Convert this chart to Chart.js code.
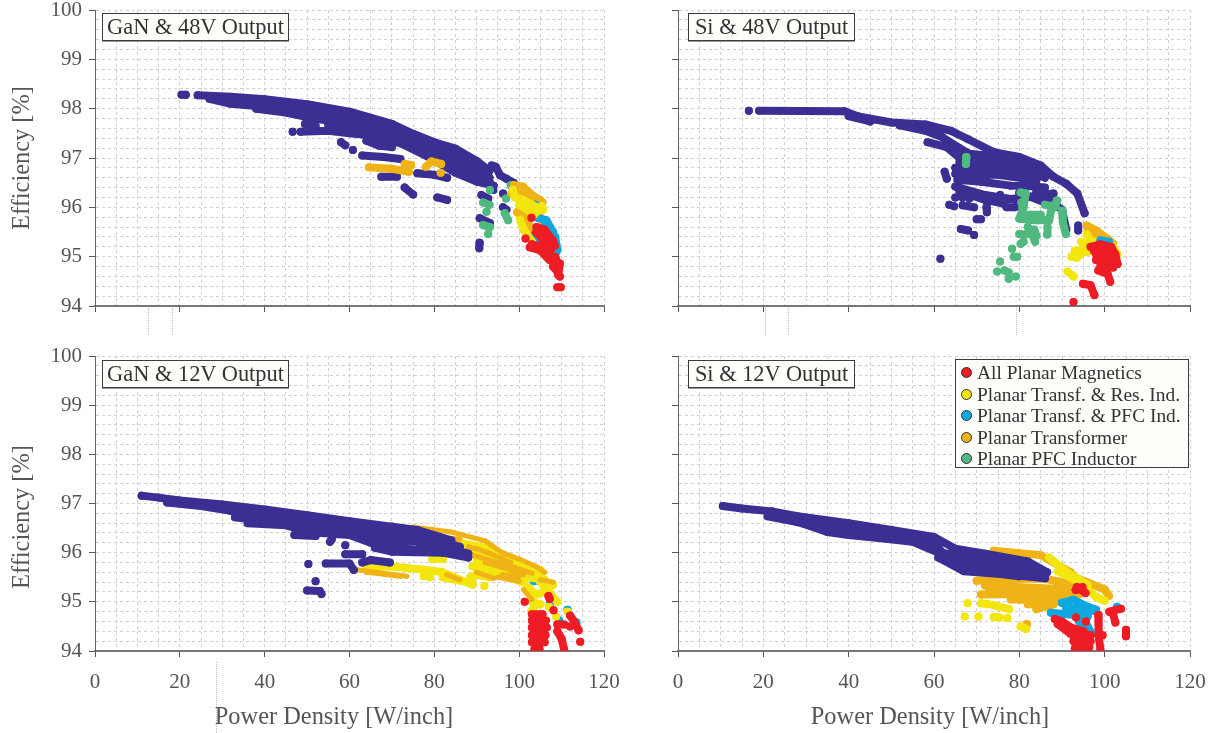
<!DOCTYPE html>
<html>
<head>
<meta charset="utf-8">
<title>Efficiency vs Power Density</title>
<script src="https://cdn.jsdelivr.net/npm/chart.js@4"></script>
<style>
	html, body { margin: 0; padding: 0; background: #fff; }
	#page { position: relative; width: 1226px; height: 733px; overflow: hidden; font-family: "Liberation Serif", serif; color: #555; }
	canvas { position: absolute; }
	.tag { position: absolute; height: 26px; line-height: 26px; border: 1px solid #3c3c3c; background: #fffdf9; font-size: 22.4px; color: #333; text-align: center; white-space: nowrap; box-shadow: 0 1px 0 #999; }
	.axisTitle { position: absolute; font-size: 24.4px; white-space: nowrap; transform: translate(-50%, -50%); }
	.stray { position: absolute; border-left: 1px dotted #bbb; }
	#legend { position: absolute; left: 955px; top: 359px; width: 232px; height: 107px; border: 1px solid #3c3c3c; background: #fffdf9; font-size: 19.4px; line-height: 22px; color: #333; }
	#legend div { position: absolute; left: 21px; white-space: nowrap; }
	#legend i { position: absolute; left: -16px; top: 5px; width: 9px; height: 9px; border-radius: 50%; border: 1px solid #333; }
</style>
</head>
<body>
<div id="page"></div>
<script>
/* ---- axis ticks ---- */
const xTickLabels = [0, 20, 40, 60, 80, 100, 120];
const yTickLabels = [94, 95, 96, 97, 98, 99, 100];

/* ---- legend ---- */
const legendNames = ["All Planar Magnetics", "Planar Transf. & Res. Ind.", "Planar Transf. & PFC Ind.", "Planar Transformer", "Planar PFC Inductor"];
const legendColors = ["#ee1c25", "#f2e60e", "#0ca8df", "#efb317", "#50b97f"];
const sweepColor = "#3b2f93";

/* ---- [power density, efficiency], null ends a sweep ---- */
const ganHighBlue = [
	[20.4, 98.28], [21.4, 98.28], null,
	[24.2, 98.27], [32, 98.24], [40, 98.19], [50, 98.09], [60, 97.94], [70, 97.69], [75, 97.49], [80, 97.32], [85, 97.19], [90, 96.94], [93, 96.74], null,
	[27, 98.2], [32, 98.1], [40, 98.04], [50, 97.95], [60, 97.8], [70, 97.55], [75, 97.35], [80, 97.18], [85, 97.05], [90, 96.8], [93, 96.6], null,
	[29, 98.17], [36, 98.12], [42, 98.08], null,
	[38, 98.0], [45, 97.92], [50, 97.83], [60, 97.68], [70, 97.43], [75, 97.25], [80, 97.06], [85, 96.93], [90, 96.68], [93, 96.52], null,
	[55, 97.68], [60, 97.56], [65, 97.46], [70, 97.36], [75, 97.2], [80, 96.98], [85, 96.8], [90, 96.62], null,
	[72, 97.3], [78, 97.05], [85, 96.7], [90, 96.52], [94, 96.44], null,
	[46.6, 97.53], null,
	[48.5, 97.53], [55, 97.55], [60, 97.5], [66, 97.45], null,
	[49.5, 97.69], [52, 97.65], null,
	[58, 97.32], [59, 97.26], null,
	[60.8, 97.16], null,
	[63, 97.05], [68, 97.02], [72, 96.98], null,
	[64, 97.35], [67, 97.25], [70, 97.22], null,
	[67.5, 96.62], [71.2, 96.62], null,
	[76, 96.69], [80, 96.66], [83, 96.6], null,
	[73, 96.4], [75, 96.26], null,
	[80.7, 96.2], [83, 96.15], null,
	[93.5, 96.85], [94.5, 96.82], [95.5, 96.65], [97, 96.58], [98.7, 96.5], [99.4, 96.42], null,
	[91.1, 96.25], [92.7, 96.18], null,
	[93.9, 96.35], null,
	[90.7, 95.78], [93.1, 95.68], null,
	[90.7, 95.28], [90.6, 95.17], null,
	[96.2, 96.28], null,
	[96.2, 96.0], [97, 95.95]
];
const ganHighGreen = [
	[98, 96.45], null,
	[93.1, 96.35], null,
	[96.9, 96.18], null,
	[91.5, 96.1], [93, 96.05], null,
	[92.3, 95.91], null,
	[91.5, 95.64], [93.1, 95.6], null,
	[92.7, 95.46], null,
	[96.6, 95.88], [97.4, 95.74]
];
const ganHighOrange = [
	[64.6, 96.81], [70, 96.78], [74, 96.72], null,
	[73, 96.88], [74.5, 96.86], null,
	[78, 96.82], [79.3, 96.93], [81.6, 96.88], null,
	[81.5, 96.7], null,
	[98.8, 96.45], [100.9, 96.42], [103, 96.25], [104.9, 96.15], [105.5, 96.1], null,
	[100, 96.3], [102, 96.2], [104, 96.05], null,
	[98.2, 96.28], [100.5, 96.15], [102.5, 95.95], [104, 95.85], [106, 95.7], null,
	[101.5, 96.05], [103, 95.9], [105, 95.8], null,
	[99.5, 95.9], [101, 95.8], null,
	[100.5, 95.9], [102, 95.7], [103, 95.55], [104.5, 95.45], null,
	[101, 95.55], [103.5, 95.38], null
];
const ganHighCyan = [
	[103.7, 96.05], null,
	[104.5, 95.78], [106.4, 95.74], [108, 95.5], null,
	[106, 95.62], [108.5, 95.4], [109, 95.15], null,
	[108.8, 95.1], null,
	[103, 95.42], [105, 95.25], [107, 95.15], null,
	[102.9, 95.34], [105.5, 95.18]
];
const ganHighYellow = [
	[98.5, 96.35], [99, 96.2], [101, 96.15], [103, 96.05], [105.6, 95.95], null,
	[100, 96.05], [102, 95.95], [103.5, 95.85], [105.4, 96.02], null,
	[100.2, 95.75], [100.8, 95.6], [101.7, 95.47], [103, 95.3], null
];
const ganHighRed = [
	[102.9, 95.79], null,
	[101.5, 95.37], null,
	[104.1, 95.6], [106, 95.55], [108, 95.32], [108.4, 95.22], null,
	[105, 95.5], [107, 95.28], null,
	[104, 95.5], [105.5, 95.35], [107.5, 95.15], null,
	[102.5, 95.19], [104.9, 95.13], [107.2, 94.93], [109.6, 94.86], [109.2, 94.63], [109.6, 94.6], null,
	[103, 95.25], [105, 95.2], [107, 95.05], [108, 94.95], null,
	[106.5, 95.0], [108.5, 95.0], [109.4, 94.8], null,
	[108, 94.8], [109, 94.7], null,
	[109, 94.38], [109.8, 94.38]
];

const siHighBlue = [
	[16.6, 97.96], null,
	[19, 97.96], [39, 97.95], [42, 97.85], [50, 97.72], [58, 97.68], [64, 97.55], [68, 97.38], [74, 97.12], [80, 97.02], [85, 96.85], [88, 96.62], [91, 96.48], [93.6, 96.28], [95.3, 95.88], null,
	[40, 97.85], [45, 97.74], null,
	[52, 97.66], [58, 97.55], [62, 97.42], [66, 97.2], [70, 97.0], null,
	[58.5, 97.32], [63, 97.22], [66, 97.0], [70, 96.85], null,
	[67, 97.1], [72, 97.05], [80, 96.95], [85, 96.75], null,
	[66, 96.92], [72, 96.9], [80, 96.85], [86, 96.6], null,
	[65, 96.8], [75, 96.78], [85, 96.65], null,
	[65, 96.68], [75, 96.66], [84, 96.55], null,
	[65.5, 96.56], [71, 96.52], [78, 96.44], [84, 96.42], null,
	[62.5, 96.72], [63, 96.58], null,
	[65, 96.42], [72, 96.25], [78, 96.17], [83, 96.22], [88, 96.28], null,
	[66, 96.32], [72, 96.15], [76, 96.08], null,
	[82, 96.45], [86, 96.4], null,
	[80, 96.3], [86, 96.1], [88, 96.0], null,
	[75.5, 96.25], [77, 96.0], [79, 96.0], [81, 96.15], null,
	[84, 96.32], [87, 96.14], [90, 95.95], [91, 95.55], null,
	[65, 96.2], null, [66.7, 96.2], null, [68.3, 96.18], null,
	[63.6, 96.05], null, [64.7, 96.02], null,
	[66.7, 96.04], [69.4, 96.0], null,
	[72.3, 96.0], [72.4, 95.9], null,
	[70, 95.76], [71, 95.76], null,
	[66.3, 95.56], [68, 95.53], null,
	[69.4, 95.44], null,
	[61.5, 94.96], null,
	[93.8, 95.63], [93.8, 95.53]
];
const siHighGreen = [
	[67.6, 97.02], [67.5, 96.88], null,
	[80.3, 96.3], [81.5, 96.28], [81, 96.0], [80, 95.77], [84, 95.74], [87, 95.74], [87.4, 95.93], [88.9, 96.14], null,
	[80.5, 96.1], [81, 95.85], [85, 95.85], null,
	[86, 96.05], [88.5, 96.02], null,
	[90, 95.93], [90.2, 95.7], [90.9, 95.46], null,
	[82, 95.6], [83, 95.45], [83.7, 95.3], null,
	[83.5, 95.55], [84, 95.42], null,
	[86.5, 95.45], [86.6, 95.6], null,
	[80, 95.46], [81.5, 95.45], null,
	[80.3, 95.26], [81, 95.3], null,
	[78.3, 95.16], null,
	[78.7, 95.0], [79.5, 95.0], null,
	[75.5, 94.9], null,
	[74.8, 94.7], null,
	[76.5, 94.72], [77.5, 94.68], null,
	[77.5, 94.55], null,
	[79.2, 94.6]
];
const siHighOrange = [[95.8, 95.63], [98, 95.53], [100.7, 95.36], [102, 95.26], null, [96, 95.5], [98, 95.42]];
const siHighYellow = [
	[95.8, 95.45], [97, 95.3], [99, 95.3], null,
	[94.5, 95.3], [96, 95.1], [98, 95.15], null,
	[93, 95.12], [94.8, 95.12], [96, 95.25], null,
	[92.2, 95.0], [93.5, 94.98], [95, 95.1], null,
	[91.3, 94.7], [92.7, 94.6], null,
	[102, 95.2], [103, 95.05]
];
const siHighCyan = [[99, 95.33], [101, 95.3]];
const siHighRed = [
	[96.7, 95.2], [99, 95.25], [101.5, 95.2], [102.5, 95.05], [103, 94.85], null,
	[97.5, 95.12], [101, 95.1], null,
	[98, 95.05], [100, 95.0], [102.5, 94.9], [103, 94.85], null,
	[98, 94.93], [102, 94.85], null,
	[99, 94.8], [102, 94.78], null,
	[98.5, 94.72], [100.7, 94.65], [101.3, 94.49], null,
	[94.9, 94.45], [96.7, 94.42], [97.6, 94.22], null,
	[92.7, 94.08]
];

const ganLowOrange = [
	[75, 96.52], [84, 96.42], [92, 96.24], [96, 96.0], [100, 95.87], [104, 95.72], [106, 95.6], null,
	[62, 95.65], [68, 95.58], [73.5, 95.52], null,
	[64, 95.6], [72, 95.52], null,
	[83, 95.55], [86, 95.45], null,
	[78, 96.33], [86, 96.28], null,
	[88, 96.12], [92, 96.02], [96, 95.88], null,
	[90, 96.08], [94, 95.95], [98, 95.8], null,
	[89, 95.95], [93, 95.85], null,
	[94, 95.82], [99, 95.7], [103, 95.58], null,
	[92, 95.8], [98, 95.65], [101, 95.55], null,
	[96, 95.55], [100, 95.52], null,
	[90, 95.6], [94, 95.48], null,
	[95, 95.5], [100, 95.42], null,
	[105, 95.45], [108, 95.4], null,
	[101, 95.25], [103, 95.05]
];
const ganLowYellow = [
	[86, 96.2], [92, 96.1], [96, 95.92], [100, 95.77], [105, 95.65], null,
	[88, 96.05], [92, 95.92], [96, 95.78], [100, 95.62], [105, 95.52], null,
	[90, 95.85], [94, 95.75], [98, 95.6], [102, 95.5], [106, 95.45], null,
	[89, 95.72], [94, 95.6], [98, 95.48], [101, 95.4], null,
	[88.5, 95.5], [90, 95.55], [93, 95.5], null,
	[102, 95.3], [104, 95.15], [106, 95.2], [108, 95.35], null,
	[105, 95.4], [109, 95.0], null,
	[103, 95.0], [105, 94.95], null,
	[64, 95.72], [70, 95.72], [78, 95.65], [82, 95.6], [86, 95.45], [89, 95.35], null,
	[82, 95.5], [89, 95.38], null,
	[79.5, 95.87], [82, 95.87], null,
	[77.5, 95.52], null, [79, 95.5], null,
	[91.8, 95.32], null,
	[102.8, 94.8], [104, 94.95], null,
	[107, 94.9], null, [108.7, 94.7], null, [111.4, 94.8], null
];
const ganLowCyan = [[103.5, 95.42], null, [107.2, 94.95], null, [111.4, 94.84], null, [109.4, 94.62], null, [113.5, 94.58]];
const ganLowBlue = [
	[11, 97.16], [15, 97.12], [20, 97.06], [30, 96.98], [40, 96.88], [50, 96.76], [60, 96.64], [70, 96.53], [76, 96.46], [84, 96.25], null,
	[17, 97.02], [25, 96.95], [32, 96.85], [40, 96.76], [50, 96.64], [60, 96.52], [70, 96.41], [80, 96.28], [86, 96.12], null,
	[33, 96.72], [40, 96.64], [50, 96.52], [60, 96.4], [70, 96.29], [80, 96.17], [88, 95.98], null,
	[36, 96.6], [45, 96.56], [50, 96.42], [60, 96.36], [65, 96.2], [75, 96.06], [85, 96.03], null,
	[47, 96.36], [52, 96.34], null,
	[66, 96.1], [70, 96.02], [82, 96.0], [88, 95.9], null,
	[59, 96.15], null,
	[55.8, 96.27], [55.4, 96.22], null,
	[59, 95.97], [63, 95.97], null,
	[63, 95.8], [65, 95.85], [69.5, 95.8], null,
	[54.4, 95.78], [60, 95.78], [61, 95.65], null,
	[50.3, 95.77], null,
	[52, 95.42], null,
	[50, 95.23], [53, 95.22], [53.4, 95.16]
];
const ganLowRed = [
	[101.3, 95.0], null,
	[106.9, 95.12], [107.2, 95.06], null,
	[108.1, 94.83], null,
	[103, 94.75], [105.5, 94.75], null,
	[103, 94.62], [106.3, 94.62], null,
	[103, 94.48], [106.5, 94.48], null,
	[103, 94.32], [106.2, 94.32], null,
	[103, 94.18], [106, 94.18], null,
	[103.6, 94.04], [104.8, 94.04], null,
	[109, 94.54], [110.6, 94.54], null,
	[109, 94.4], [110, 94.25], [110.6, 94.03], null,
	[112, 94.72], [113, 94.6], [114, 94.42], null,
	[112, 94.5], null,
	[114.4, 94.19]
];

const siLowOrange = [
	[74, 96.04], [85, 95.95], [92, 95.6], [93, 95.5], [100, 95.25], [101, 95.12], null,
	[70, 95.43], [78, 95.47], [86, 95.47], [90, 95.4], [93, 95.3], null,
	[72, 95.33], [92, 95.25], null,
	[73, 95.24], [93, 95.2], null,
	[71, 95.15], [80, 95.16], [90, 95.12], [94, 95.15], null,
	[78, 95.05], [90, 95.0], null,
	[82, 94.95], [88, 94.95], [84, 94.85], null,
	[81.8, 94.55]
];
const siLowYellow = [
	[87, 95.9], [92, 95.55], [96, 95.35], null,
	[89, 95.62], [93, 95.45], null,
	[94, 95.45], [96, 95.25], [98, 95.1], [100, 95.02], null,
	[67.9, 94.97], null,
	[71, 94.97], [72.8, 94.95], null,
	[74, 94.93], [77.6, 94.85], null,
	[67.2, 94.7], null, [70.4, 94.7], null,
	[74, 94.69], [75.4, 94.68], null,
	[77.2, 94.67], null,
	[80.3, 94.5], [81.6, 94.45]
];
const siLowCyan = [
	[90, 94.98], [92.7, 95.04], [96, 94.9], [98, 94.84], null,
	[91, 94.88], [97, 94.82], null,
	[87.4, 94.78], [91, 94.75], [94, 94.72], [96, 94.7], null,
	[94, 94.6], [96, 94.5], [97, 94.35], null,
	[102.9, 94.9]
];
const siLowBlue = [
	[10.5, 96.95], [15, 96.9], [22, 96.84], [28, 96.74], [40, 96.6], [50, 96.46], [60, 96.32], [65, 96.08], [72, 95.98], [82, 95.82], [86.5, 95.6], null,
	[21, 96.74], [28, 96.62], [35, 96.55], [40, 96.45], [50, 96.32], [60, 96.2], [62, 96.0], [70, 95.85], [80, 95.72], [86, 95.55], null,
	[29, 96.6], [35, 96.42], [40, 96.36], [47, 96.3], [55, 96.22], [61, 96.0], [65, 95.8], [72, 95.72], [80, 95.6], [86, 95.5], null,
	[50, 96.4], [60, 96.25], null,
	[61, 95.9], [67, 95.62], [78, 95.55], [86, 95.48], null,
	[70, 95.62], [80, 95.52]
];
const siLowRed = [
	[93.5, 95.3], [95.5, 95.18], null,
	[93.2, 95.24], [94.8, 95.3], null,
	[88.3, 94.65], [90, 94.6], [92, 94.48], [95, 94.4], null,
	[89, 94.55], [92, 94.35], null,
	[93.3, 94.68], null,
	[95.6, 94.6], null,
	[92.7, 94.32], [96.7, 94.32], null,
	[92.7, 94.2], [96.7, 94.2], null,
	[93, 94.05], [96.4, 94.08], null,
	[98.5, 94.73], [98.6, 94.3], [99, 94.03], null,
	[99.5, 94.32], null,
	[101.1, 94.8], [103.8, 94.86], null,
	[102.5, 94.58], [102, 94.75], null,
	[105, 94.43], [105, 94.3]
];

/* ---- each panel lists its series bottom to top ---- */
const panels = [
	{ id: "ganHigh", tag: "GaN & 48V Output", left: 0, top: 0, labelsY: true, labelsX: false, series: [[ganHighBlue, sweepColor], [ganHighGreen, legendColors[4]], [ganHighOrange, legendColors[3]], [ganHighCyan, legendColors[2]], [ganHighYellow, legendColors[1]], [ganHighRed, legendColors[0]]] },
	{ id: "siHigh", tag: "Si & 48V Output", left: 630, top: 0, labelsY: false, labelsX: false, series: [[siHighBlue, sweepColor], [siHighGreen, legendColors[4]], [siHighOrange, legendColors[3]], [siHighYellow, legendColors[1]], [siHighCyan, legendColors[2]], [siHighRed, legendColors[0]]] },
	{ id: "ganLow", tag: "GaN & 12V Output", left: 0, top: 345, labelsY: true, labelsX: true, series: [[ganLowCyan, legendColors[2]], [ganLowYellow, legendColors[1]], [ganLowOrange, legendColors[3], 5], [ganLowBlue, sweepColor], [ganLowRed, legendColors[0]]] },
	{ id: "siLow", tag: "Si & 12V Output", left: 630, top: 345, labelsY: false, labelsX: true, series: [[siLowOrange, legendColors[3]], [siLowYellow, legendColors[1]], [siLowCyan, legendColors[2]], [siLowBlue, sweepColor], [siLowRed, legendColors[0]]] }
];

const page = document.getElementById("page");

function addText(className, text, css) {
	const el = document.createElement("div");
	el.className = className;
	el.textContent = text;
	Object.assign(el.style, css);
	page.appendChild(el);
	return el;
}

function isWhole(value, step) {
	return Math.abs(value / step - Math.round(value / step)) < 1e-6;
}

function drawPanel(panel) {
	const isLeft = panel.left === 0;
	const isTop = panel.top === 0;
	const canvas = document.createElement("canvas");
	canvas.id = panel.id;
	canvas.width = isLeft ? 630 : 596;
	canvas.height = isTop ? 345 : 388;
	canvas.style.left = panel.left + "px";
	canvas.style.top = panel.top + "px";
	page.appendChild(canvas);

	new Chart(canvas, {
		type: "scatter",
		data: {
			// Chart.js paints the first dataset last, so flip the bottom-to-top list
			datasets: panel.series.slice().reverse().map(([points, color, width = 8]) => ({
				data: points.map(p => p ? { x: p[0], y: p[1] } : { x: null, y: null }),
				showLine: true,
				spanGaps: false,
				borderColor: color,
				backgroundColor: color,
				borderWidth: width,
				borderCapStyle: "round",
				borderJoinStyle: "round",
				pointRadius: width / 2,
				pointBorderWidth: 0,
				pointHoverRadius: width / 2
			}))
		},
		options: {
			responsive: false,
			animation: false,
			events: [],
			layout: { padding: { top: isTop ? 10 : 11, right: isLeft ? 26 : 36, left: 0, bottom: 0 } },
			plugins: { legend: { display: false }, tooltip: { enabled: false }, title: { display: false } },
			scales: {
				x: {
					type: "linear",
					min: xTickLabels[0],
					max: xTickLabels[xTickLabels.length - 1],
					afterFit: scale => {
						scale.height = isTop ? 39 : 82;
						scale.paddingLeft = 0;
						scale.paddingRight = 0;
					},
					grid: {
						color: "#d0d0d0",
						lineWidth: 1,
						tickLength: 6,
						tickColor: c => isWhole(c.tick.value, 20) ? "#555" : "rgba(0,0,0,0)"
					},
					border: { display: true, color: "#777", width: 2, dash: [3, 3] },
					ticks: {
						stepSize: 5,
						autoSkip: false,
						maxRotation: 0,
						padding: 13,
						color: "#555",
						font: { family: "Liberation Serif", size: 21 },
						callback: v => panel.labelsX && xTickLabels.includes(v) ? String(v) : ""
					}
				},
				y: {
					type: "linear",
					min: yTickLabels[0],
					max: yTickLabels[yTickLabels.length - 1],
					afterFit: scale => {
						scale.width = isLeft ? 95 : 48;
						scale.paddingTop = 0;
						scale.paddingBottom = 0;
					},
					grid: {
						color: "#d0d0d0",
						lineWidth: 1,
						tickLength: 6,
						tickColor: c => isWhole(c.tick.value, 1) ? "#555" : "rgba(0,0,0,0)"
					},
					border: { display: true, color: "#666", width: 1, dash: [3, 3] },
					ticks: {
						stepSize: 0.2,
						autoSkip: false,
						padding: 7,
						color: "#555",
						font: { family: "Liberation Serif", size: 21 },
						callback: v => panel.labelsY && isWhole(v, 1) ? String(Math.round(v)) : ""
					}
				}
			}
		}
	});

	addText("tag", panel.tag, {
		left: (isLeft ? 102 : 688) + "px",
		top: (isTop ? 13 : 360) + "px",
		width: (isLeft ? 185 : 165) + "px"
	});
}

panels.forEach(drawPanel);

addText("axisTitle", "Efficiency [%]", { left: "21px", top: "158px", transform: "translate(-50%, -50%) rotate(-90deg)" });
addText("axisTitle", "Efficiency [%]", { left: "21px", top: "517px", transform: "translate(-50%, -50%) rotate(-90deg)" });
addText("axisTitle", "Power Density [W/inch]", { left: "334px", top: "716px" });
addText("axisTitle", "Power Density [W/inch]", { left: "930px", top: "716px" });

const legend = document.createElement("div");
legend.id = "legend";
legendNames.forEach((name, i) => {
	const row = document.createElement("div");
	row.textContent = name;
	row.style.top = [2, 24, 45, 67, 88][i] + "px";
	const dot = document.createElement("i");
	dot.style.background = legendColors[i];
	row.appendChild(dot);
	legend.appendChild(row);
});
page.appendChild(legend);

/* loose dotted scraps left around the panels */
[[148, 308, 27], [172, 308, 27], [765, 308, 27], [788, 308, 27], [1016, 308, 27], [216, 662, 71]].forEach(([x, y, h]) => {
	const mark = document.createElement("div");
	mark.className = "stray";
	Object.assign(mark.style, { left: x + "px", top: y + "px", height: h + "px" });
	page.appendChild(mark);
});
</script>
</body>
</html>
